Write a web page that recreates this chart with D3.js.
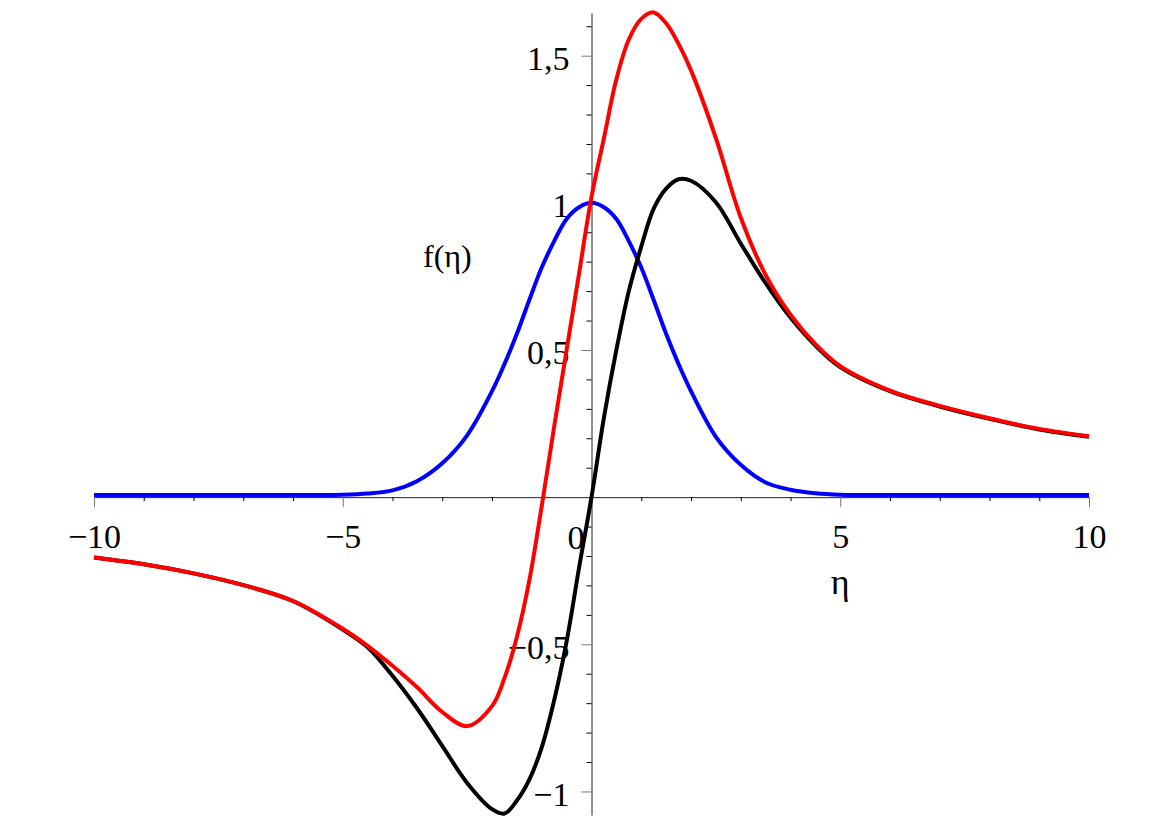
<!DOCTYPE html>
<html>
<head>
<meta charset="utf-8">
<script src="https://cdn.jsdelivr.net/npm/d3@7/dist/d3.min.js"></script>
<style>
body{margin:0;background:#fff;}
text{font-family:"Liberation Serif","Times New Roman",serif;}
</style>
</head>
<body>
<div class="main"></div>
<script>
// values
var eta=[-10,-9,-8,-7,-6,-5,-4.5,-4,-3.5,-3,-2.5,-2,-1.75,-1.5,-1.25,-1,-0.75,-0.5,-0.25,0,
         0.25,0.5,0.75,1,1.25,1.5,1.75,2,2.5,3,3.5,4,4.5,5,6,7,8,9,10];
var redVals=[-0.205,-0.228,-0.259,-0.299,-0.353,-0.447,-0.505,-0.573,-0.647,-0.73,-0.778,-0.71,-0.615,-0.475,-0.283,-0.03,0.24,0.50,0.76,1.02,
             1.22,1.42,1.555,1.625,1.647,1.61,1.54,1.45,1.22,0.95,0.755,0.62,0.52,0.445,0.362,0.31,0.268,0.232,0.207];
var blackVals=[-0.205,-0.228,-0.259,-0.299,-0.353,-0.45,-0.51,-0.607,-0.719,-0.845,-0.971,-1.06,-1.075,-1.031,-0.96,-0.85,-0.69,-0.49,-0.24,0.0,
               0.27,0.50,0.70,0.851,0.98,1.048,1.08,1.075,1.002,0.862,0.727,0.61,0.515,0.442,0.36,0.308,0.266,0.23,0.205];
var blueVals=[0.007,0.007,0.007,0.007,0.007,0.008,0.012,0.023,0.055,0.115,0.21,0.36,0.452,0.555,0.67,0.78,0.87,0.945,0.985,1.0,
              0.985,0.945,0.87,0.78,0.67,0.555,0.452,0.36,0.205,0.11,0.05,0.025,0.013,0.008,0.007,0.007,0.007,0.007,0.007];
var xMajor=[-10,-5,5,10];
var yMajor=[-1,-0.5,0.5,1,1.5];

var width=1170, height=827;
var svg=d3.select('.main').append('svg')
    .attr('width',width)
    .attr('height',height);

var x=d3.scaleLinear().domain([-10,10]).range([94,1089]);
var y=d3.scaleLinear().domain([-1.08,1.645]).range([815,13]);

var fmt=function(d){
  var s=String(Math.abs(d)).replace('.',',');
  return d<0 ? '\u2212'+s : s;
};

// X-AXIS
var xMinor=d3.range(-10,11).filter(function(d){return d!==0 && xMajor.indexOf(d)<0;});
svg.append('g')
    .attr('transform','translate(0,'+y(0)+')')
    .call(d3.axisBottom(x).tickValues(xMinor).tickSize(4).tickSizeOuter(0).tickFormat(''))
    .call(function(g){g.select('.domain').attr('stroke','#222');});
var xAxisGroup=svg.append('g')
    .attr('transform','translate(0,'+y(0)+')')
    .call(d3.axisBottom(x).tickValues(xMajor).tickSize(10).tickPadding(17).tickSizeOuter(0).tickFormat(fmt));
xAxisGroup.select('.domain').remove();
xAxisGroup.selectAll('line').attr('stroke','#777');
xAxisGroup.selectAll('text')
    .attr('font-family','"Liberation Serif",serif')
    .attr('font-size',34)
    .attr('fill','#000');

// Y-AXIS
var yMinor=d3.range(-10,17).map(function(i){return i/10;})
    .filter(function(d){return Math.abs(d*2-Math.round(d*2))>1e-6;});
svg.append('g')
    .attr('transform','translate('+x(0)+',0)')
    .call(d3.axisLeft(y).tickValues(yMinor).tickSize(5).tickSizeOuter(0).tickFormat(''))
    .call(function(g){g.select('.domain').attr('stroke','#222');});
var yAxisGroup=svg.append('g')
    .attr('transform','translate('+x(0)+',0)')
    .call(d3.axisLeft(y).tickValues(yMajor).tickSize(10).tickPadding(12).tickSizeOuter(0).tickFormat(fmt));
yAxisGroup.select('.domain').remove();
yAxisGroup.selectAll('line').attr('stroke','#777');
yAxisGroup.selectAll('text')
    .attr('dy','0.41em')
    .attr('font-family','"Liberation Serif",serif')
    .attr('font-size',34)
    .attr('fill','#000');

// origin label and axis titles
svg.append('text')
    .attr('x',x(0)-7)
    .attr('y',549)
    .attr('text-anchor','end')
    .attr('font-size',34)
    .text('0');
svg.append('text')
    .attr('x',423)
    .attr('y',267)
    .attr('font-size',32)
    .text('f(\u03b7)');
svg.append('text')
    .attr('x',x(5))
    .attr('y',594)
    .attr('text-anchor','middle')
    .attr('font-size',36)
    .text('\u03b7');

// curves
var line=d3.line()
    .x(function(d){return x(d[0]);})
    .y(function(d){return y(d[1]);})
    .curve(d3.curveCatmullRom.alpha(0.5));

var series=[
  {vals:blueVals,color:'#0000ff'},
  {vals:blackVals,color:'#000000'},
  {vals:redVals,color:'#ff0000'}
];
svg.selectAll('.curve')
    .data(series)
    .enter().append('path')
    .attr('class','curve')
    .attr('fill','none')
    .attr('stroke',function(d){return d.color;})
    .attr('stroke-width',4)
    .attr('stroke-linejoin','round')
    .attr('d',function(d){return line(eta.map(function(e,i){return [e,d.vals[i]];}));});
</script>
</body>
</html>
